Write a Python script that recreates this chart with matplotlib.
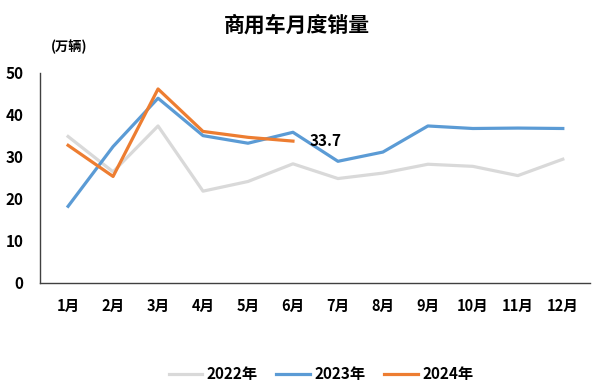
import matplotlib.pyplot as plt

plt.rcParams['font.family'] = ['Noto Sans CJK SC', 'DejaVu Sans']

months = ['1月', '2月', '3月', '4月', '5月', '6月', '7月', '8月', '9月', '10月', '11月', '12月']
sales_2022 = [34.8, 26.4, 37.3, 21.8, 24.1, 28.3, 24.8, 26.1, 28.2, 27.7, 25.5, 29.4]
sales_2023 = [18.2, 32.4, 43.9, 35.0, 33.2, 35.8, 28.9, 31.1, 37.3, 36.7, 36.8, 36.7]
sales_2024 = [32.7, 25.3, 46.1, 36.0, 34.6, 33.7]
yticks = [0, 10, 20, 30, 40, 50]

fig = plt.figure(figsize=(6, 3.88), dpi=100)
ax = fig.add_axes([0.067, 0.271, 0.916, 0.542])

x = list(range(len(months)))
ax.plot(x, sales_2022, color='#D9D9D9', lw=2.3, label='2022年')
ax.plot(x, sales_2023, color='#5B9BD5', lw=2.3, label='2023年')
ax.plot(x[:len(sales_2024)], sales_2024, color='#ED7D31', lw=2.3, label='2024年')

ax.annotate(f'{sales_2024[-1]}', xy=(len(sales_2024) - 1, sales_2024[-1]),
            xytext=(12, 0), textcoords='offset points', va='center', ha='left',
            fontsize=11, fontweight='bold')

ax.set_xlim(-0.62, 11.6)
ax.set_ylim(0, 50)
ax.set_xticks(x)
ax.set_xticklabels(months, fontsize=10.5, fontweight='bold')
ax.set_yticks(yticks)
ax.set_yticklabels([str(v) for v in yticks], fontsize=11, fontweight='bold')
ax.tick_params(length=0, pad=11)
ax.tick_params(axis='y', pad=12)
for s in ['top', 'right']:
    ax.spines[s].set_visible(False)
for s in ['left', 'bottom']:
    ax.spines[s].set_color('#404040')
    ax.spines[s].set_linewidth(1.0)

fig.text(0.495, 0.935, '商用车月度销量', ha='center', va='center', fontsize=15, fontweight='bold')
fig.text(0.115, 0.878, '(万辆)', ha='center', va='center', fontsize=9.5, fontweight='bold')

leg = fig.legend(loc='center', bbox_to_anchor=(0.535, 0.035), ncol=3, frameon=False,
                 prop={'weight': 'bold', 'size': 11}, handlelength=2.2, columnspacing=1.2,
                 handletextpad=0.3)

fig.savefig('out.png', dpi=100)
